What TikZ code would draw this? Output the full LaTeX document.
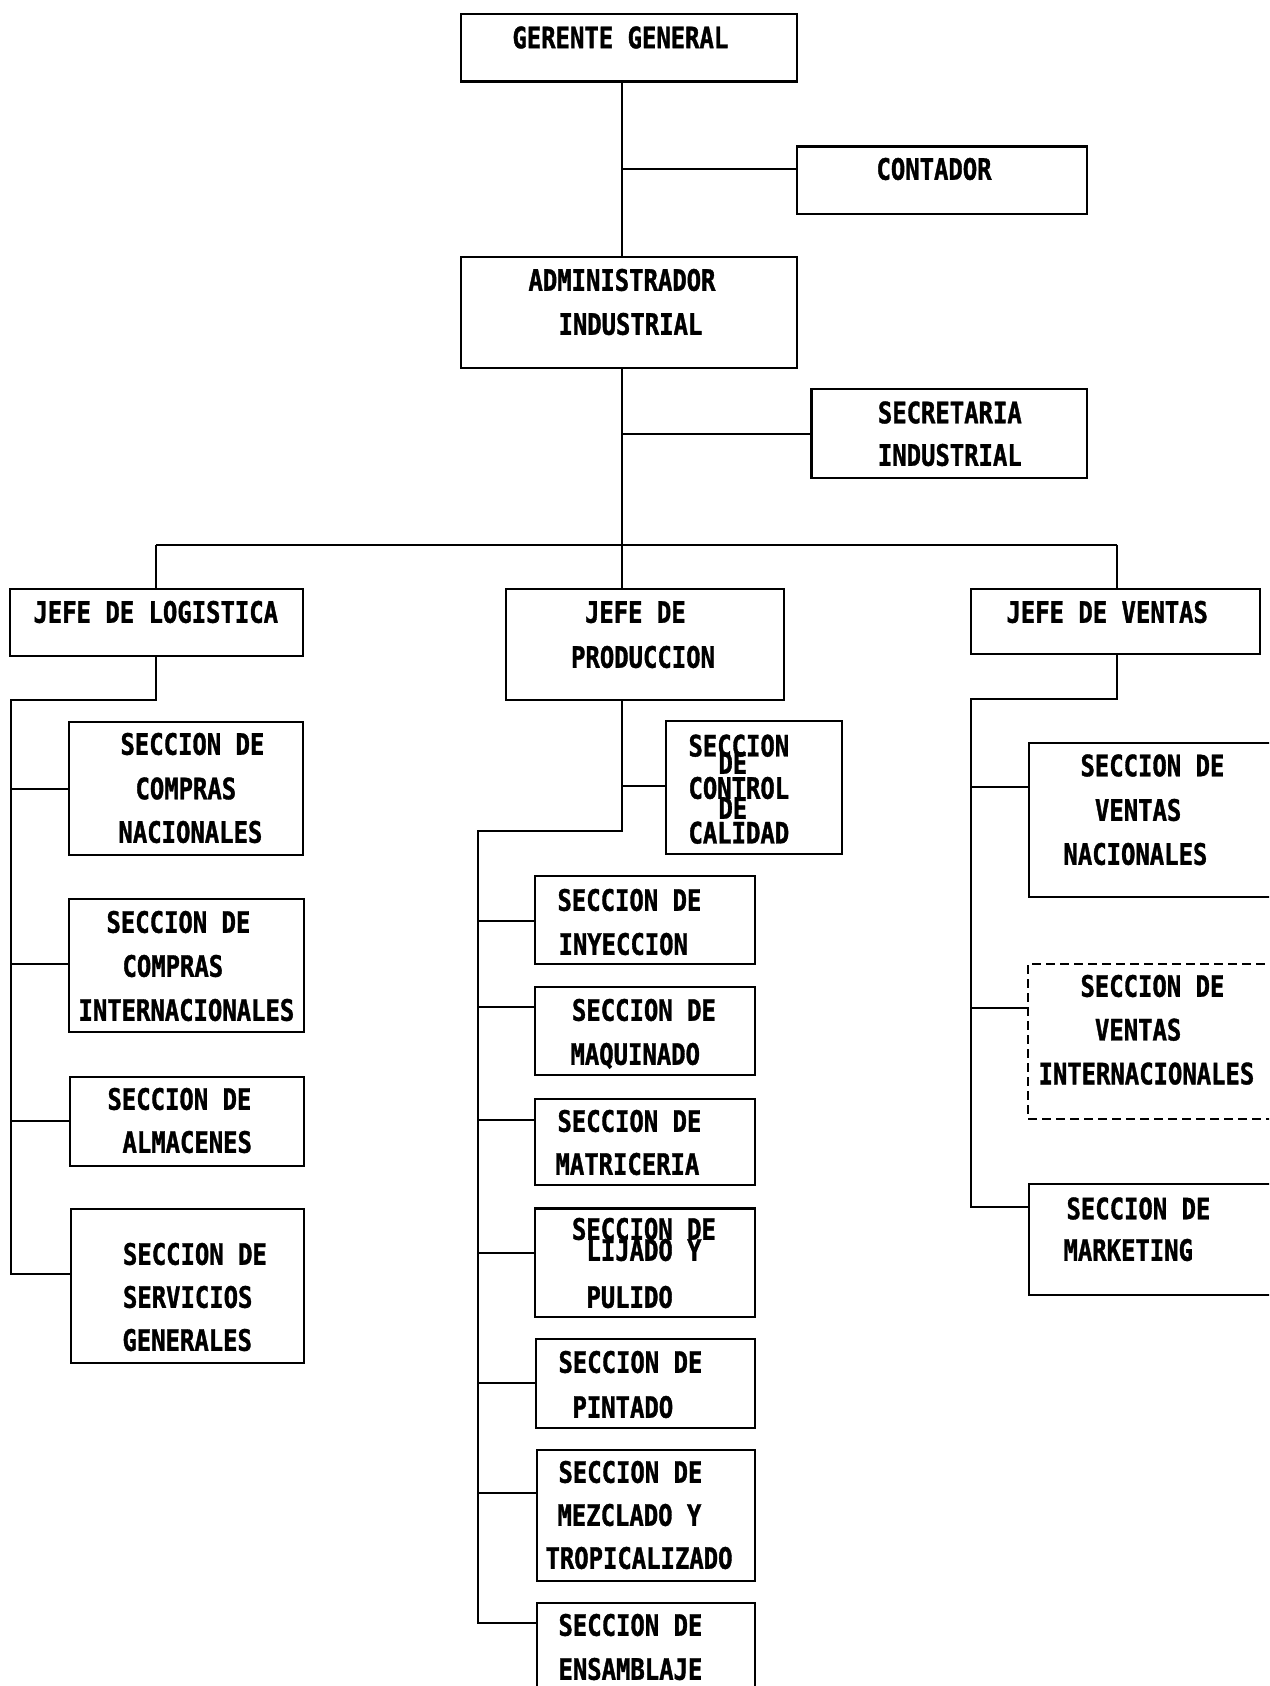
\documentclass[tikz,border=0pt]{standalone}
\usepackage{fontspec}
\usetikzlibrary{fit}
\newfontfamily\pixfont[FakeStretch=0.81,FakeBold=1.2]{DejaVu Sans Mono Bold}
% one line of a box's label, placed by its left edge and its middle height
\newcommand\orgline[4]{\node[lbl] (#1) at (#2,#3) {#4};}
\begin{document}
\begin{tikzpicture}[x=1pt,y=-1pt,
  orgbox/.style={draw=black, line width=2.2pt, inner sep=0pt},
  dashbox/.style={orgbox, dash pattern=on 9pt off 5pt},
  conn/.style={draw=black, line width=2pt},
  lbl/.style={anchor=base west, inner sep=0pt, outer sep=0pt,
    yshift=-10.75pt, xshift=-1.5pt,
    font=\pixfont\fontsize{29.5}{30}\selectfont}]
\useasboundingbox (0,0) rectangle (1269,1686);
\clip (0,0) rectangle (1269,1686);

% ---------- boxes ----------
\node[orgbox, fit={(461,14.3) (797,81.4)}] (gg) {};
\node[orgbox, fit={(797,146.4) (1086.6,213.6)}] (ct) {};
\node[orgbox, fit={(461,257) (797,368)}] (ad) {};
\node[orgbox, fit={(811.5,389) (1086.6,478)}] (sc) {};
\node[orgbox, fit={(10,589) (303,656)}] (jl) {};
\node[orgbox, fit={(506,589) (783.6,700)}] (jp) {};
\node[orgbox, fit={(971,589) (1259.7,654)}] (jv) {};
% logistics sections
\node[orgbox, fit={(69,722) (303,855)}] (ls1) {};
\node[orgbox, fit={(69,899) (304,1032)}] (ls2) {};
\node[orgbox, fit={(70,1077) (304,1166)}] (ls3) {};
\node[orgbox, fit={(71,1209) (304,1363)}] (ls4) {};
% production sections
\node[orgbox, fit={(666,720.7) (841.7,854)}] (pc) {};
\node[orgbox, fit={(535,876) (755,964)}] (ps1) {};
\node[orgbox, fit={(535,987) (755,1075)}] (ps2) {};
\node[orgbox, fit={(535,1099) (755,1185)}] (ps3) {};
\node[orgbox, fit={(535,1208.5) (755,1317)}] (ps4) {};
\node[orgbox, fit={(536,1339) (755,1428)}] (ps5) {};
\node[orgbox, fit={(537,1450) (755,1581)}] (ps6) {};
\node[orgbox, fit={(537,1603) (755,1720)}] (ps7) {};
% sales sections
\node[orgbox, fit={(1029,743) (1300,897)}] (vs1) {};
\node[dashbox, fit={(1028,963.8) (1300,1118.6)}] (vs2) {};
\node[orgbox, fit={(1029,1184) (1300,1295)}] (vs3) {};

% ---------- labels ----------
\orgline{gg-1}{514}{37.5}{GERENTE GENERAL}
\orgline{ct-1}{878}{169}{CONTADOR}
\orgline{ad-1}{530}{280}{ADMINISTRADOR}
\orgline{ad-2}{560}{324}{INDUSTRIAL}
\orgline{sc-1}{879.4}{412.5}{SECRETARIA}
\orgline{sc-2}{879.4}{455}{INDUSTRIAL}
\orgline{jl-1}{35}{612}{JEFE DE LOGISTICA}
\orgline{jp-1}{586.5}{612}{JEFE DE}
\orgline{jp-2}{572.6}{657}{PRODUCCION}
\orgline{jv-1}{1008}{612}{JEFE DE VENTAS}

\orgline{ls1-1}{122}{744}{SECCION DE}
\orgline{ls1-2}{137}{788.5}{COMPRAS}
\orgline{ls1-3}{120}{832}{NACIONALES}
\orgline{ls2-1}{108}{922}{SECCION DE}
\orgline{ls2-2}{124}{966}{COMPRAS}
\orgline{ls2-3}{80}{1010}{INTERNACIONALES}
\orgline{ls3-1}{109}{1099}{SECCION DE}
\orgline{ls3-2}{124}{1142}{ALMACENES}
\orgline{ls4-1}{124.5}{1254}{SECCION DE}
\orgline{ls4-2}{124.5}{1297}{SERVICIOS}
\orgline{ls4-3}{124}{1340}{GENERALES}

% the quality-control label is set with its lines crowded together
\orgline{pc-1}{690}{745.7}{SECCION}
\orgline{pc-2}{720}{763}{DE}
\orgline{pc-3}{690}{788}{CONTROL}
\orgline{pc-4}{720}{808}{DE}
\orgline{pc-5}{690}{832.7}{CALIDAD}
\orgline{ps1-1}{559}{900}{SECCION DE}
\orgline{ps1-2}{560}{944}{INYECCION}
\orgline{ps2-1}{573.5}{1010}{SECCION DE}
\orgline{ps2-2}{572}{1054}{MAQUINADO}
\orgline{ps3-1}{559}{1121}{SECCION DE}
\orgline{ps3-2}{557}{1164}{MATRICERIA}
\orgline{ps4-1}{573.5}{1229}{SECCION DE}
\orgline{ps4-2}{588}{1250}{LIJADO Y}
\orgline{ps4-3}{588}{1297}{PULIDO}
\orgline{ps5-1}{560}{1362}{SECCION DE}
\orgline{ps5-2}{574}{1407}{PINTADO}
\orgline{ps6-1}{560}{1472}{SECCION DE}
\orgline{ps6-2}{559}{1515}{MEZCLADO Y}
\orgline{ps6-3}{547}{1558}{TROPICALIZADO}
\orgline{ps7-1}{560}{1625}{SECCION DE}
\orgline{ps7-2}{560}{1669}{ENSAMBLAJE}

\orgline{vs1-1}{1082}{765.5}{SECCION DE}
\orgline{vs1-2}{1096.5}{810}{VENTAS}
\orgline{vs1-3}{1065}{854}{NACIONALES}
\orgline{vs2-1}{1082}{986}{SECCION DE}
\orgline{vs2-2}{1096.5}{1029.7}{VENTAS}
\orgline{vs2-3}{1040}{1073.6}{INTERNACIONALES}
\orgline{vs3-1}{1068}{1208.5}{SECCION DE}
\orgline{vs3-2}{1065}{1250}{MARKETING}

% ---------- connectors ----------
% management spine
\coordinate (j-ct) at (621.5,169);
\coordinate (j-sc) at (621.5,434);
\coordinate (bus-c) at (621.5,544.6);
\coordinate (bus-l) at (156,544.6);
\coordinate (bus-r) at (1116.5,544.6);
\draw[conn] (gg.south -| j-ct) -- (ad.north -| j-ct);
\draw[conn] (j-ct) -- (j-ct -| ct.west);
\draw[conn] (ad.south -| bus-c) -- (bus-c);
\draw[conn] (j-sc) -- (j-sc -| sc.west);
\draw[conn] (bus-l) -- (bus-r);
\draw[conn] (bus-l) -- (bus-l |- jl.north);
\draw[conn] (bus-c) -- (bus-c |- jp.north);
\draw[conn] (bus-r) -- (bus-r |- jv.north);

% logistics
\coordinate (l-top) at (156,700);
\coordinate (l-left) at (11,700);
\coordinate (l-b1) at (11,788.5);
\coordinate (l-b2) at (11,964);
\coordinate (l-b3) at (11,1121);
\coordinate (l-b4) at (11,1274);
\draw[conn] (jl.south -| l-top) -- (l-top) -- (l-left) -- (l-b4) -- (l-b4 -| ls4.west);
\draw[conn] (l-b1) -- (l-b1 -| ls1.west);
\draw[conn] (l-b2) -- (l-b2 -| ls2.west);
\draw[conn] (l-b3) -- (l-b3 -| ls3.west);

% production
\coordinate (p-qc) at (621.5,786);
\coordinate (p-top) at (621.5,831);
\coordinate (p-left) at (477.5,831);
\coordinate (p-b1) at (477.5,921);
\coordinate (p-b2) at (477.5,1007);
\coordinate (p-b3) at (477.5,1120);
\coordinate (p-b4) at (477.5,1253);
\coordinate (p-b5) at (477.5,1383);
\coordinate (p-b6) at (477.5,1493);
\coordinate (p-b7) at (477.5,1623);
\draw[conn] (jp.south -| p-top) -- (p-top) -- (p-left) -- (p-b7) -- (p-b7 -| ps7.west);
\draw[conn] (p-qc) -- (p-qc -| pc.west);
\draw[conn] (p-b1) -- (p-b1 -| ps1.west);
\draw[conn] (p-b2) -- (p-b2 -| ps2.west);
\draw[conn] (p-b3) -- (p-b3 -| ps3.west);
\draw[conn] (p-b4) -- (p-b4 -| ps4.west);
\draw[conn] (p-b5) -- (p-b5 -| ps5.west);
\draw[conn] (p-b6) -- (p-b6 -| ps6.west);

% sales
\coordinate (v-top) at (1116.5,698.6);
\coordinate (v-left) at (971,698.6);
\coordinate (v-b1) at (971,786.5);
\coordinate (v-b2) at (971,1008);
\coordinate (v-b3) at (971,1207);
\draw[conn] (jv.south -| v-top) -- (v-top) -- (v-left) -- (v-b3) -- (v-b3 -| vs3.west);
\draw[conn] (v-b1) -- (v-b1 -| vs1.west);
\draw[conn] (v-b2) -- (v-b2 -| vs2.west);
\end{tikzpicture}
\end{document}
